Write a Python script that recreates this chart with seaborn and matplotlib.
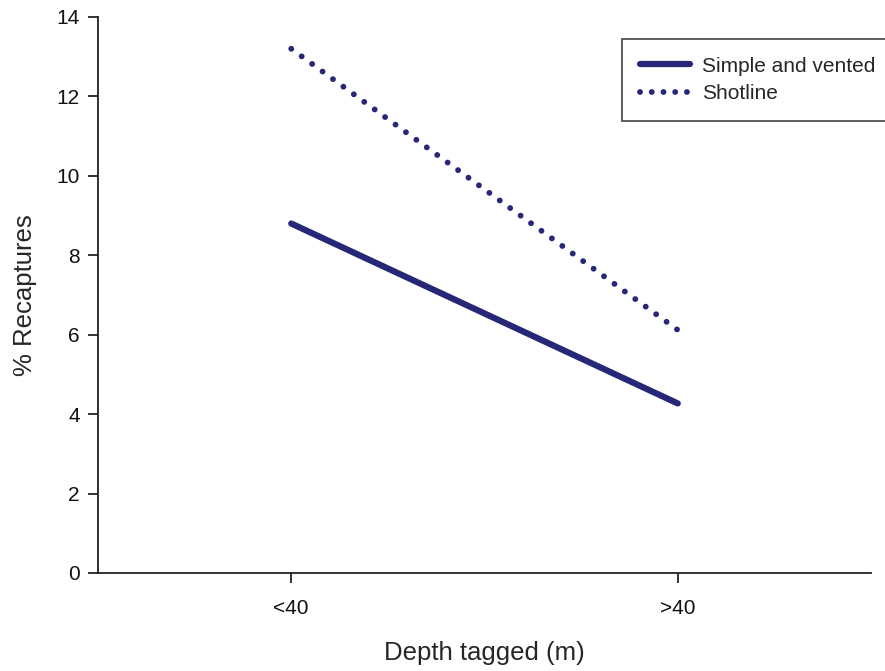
import matplotlib
matplotlib.use("Agg")
import matplotlib.pyplot as plt
import seaborn as sns
import pandas as pd
from matplotlib.lines import Line2D

categories = ["<40", ">40"]
simple_vented = [8.8, 4.27]
shotline = [13.2, 6.12]
series_names = ["Simple and vented", "Shotline"]

df = pd.DataFrame({
    "Depth": categories * 2,
    "Recaptures": simple_vented + shotline,
    "Method": [series_names[0]] * 2 + [series_names[1]] * 2,
})

sns.set_style("ticks")
plt.rcParams["font.family"] = ["Liberation Sans", "DejaVu Sans"]

color = "#272777"
fig = plt.figure(figsize=(8.85, 6.71), dpi=100)
ax = fig.add_axes([98 / 885, 1 - 573 / 671, (871 - 98) / 885, (573 - 17) / 671])

sns.lineplot(data=df, x="Depth", y="Recaptures", hue="Method", style="Method",
             palette=[color, color], dashes=[(None, None), (0.01, 2.2)],
             ax=ax, legend=False)
lines = ax.get_lines()
lines[0].set_linewidth(4.5)
lines[0].set_solid_capstyle("round")
lines[1].set_linewidth(4.2)
lines[1].set_dash_capstyle("round")

ax.set_xlim(-0.5, 1.5)
ax.set_ylim(0, 14)
ax.set_yticks(range(0, 15, 2))
ax.set_xticks([0, 1])
ax.set_xticklabels(categories)
for s in ["top", "right"]:
    ax.spines[s].set_visible(False)
for s in ["left", "bottom"]:
    ax.spines[s].set_linewidth(1.3)
    ax.spines[s].set_color("#222222")
ax.tick_params(axis="both", direction="out", length=7, width=1.3, labelsize=15,
               color="#222222", labelcolor="#111111")
ax.tick_params(axis="y", pad=6)
ax.tick_params(axis="x", pad=12)
ax.set_xlabel("Depth tagged (m)", fontsize=18.5, labelpad=16)
ax.set_ylabel("% Recaptures", fontsize=18.5, labelpad=14)

handles = [Line2D([], [], color=color, lw=4.5, solid_capstyle="round"),
           Line2D([], [], color=color, lw=4.2, linestyle=(0, (0.01, 2.0)),
                  dash_capstyle="round")]
leg = fig.legend(handles, series_names, loc="upper left",
                 bbox_to_anchor=(622 / 885, 1 - 39 / 671), fontsize=15,
                 frameon=True, fancybox=False, edgecolor="#222222",
                 handlelength=2.4, borderpad=0.85, borderaxespad=0,
                 labelspacing=0.4, handletextpad=0.6)
leg.get_frame().set_linewidth(1.3)

fig.savefig("out.png", dpi=100)
